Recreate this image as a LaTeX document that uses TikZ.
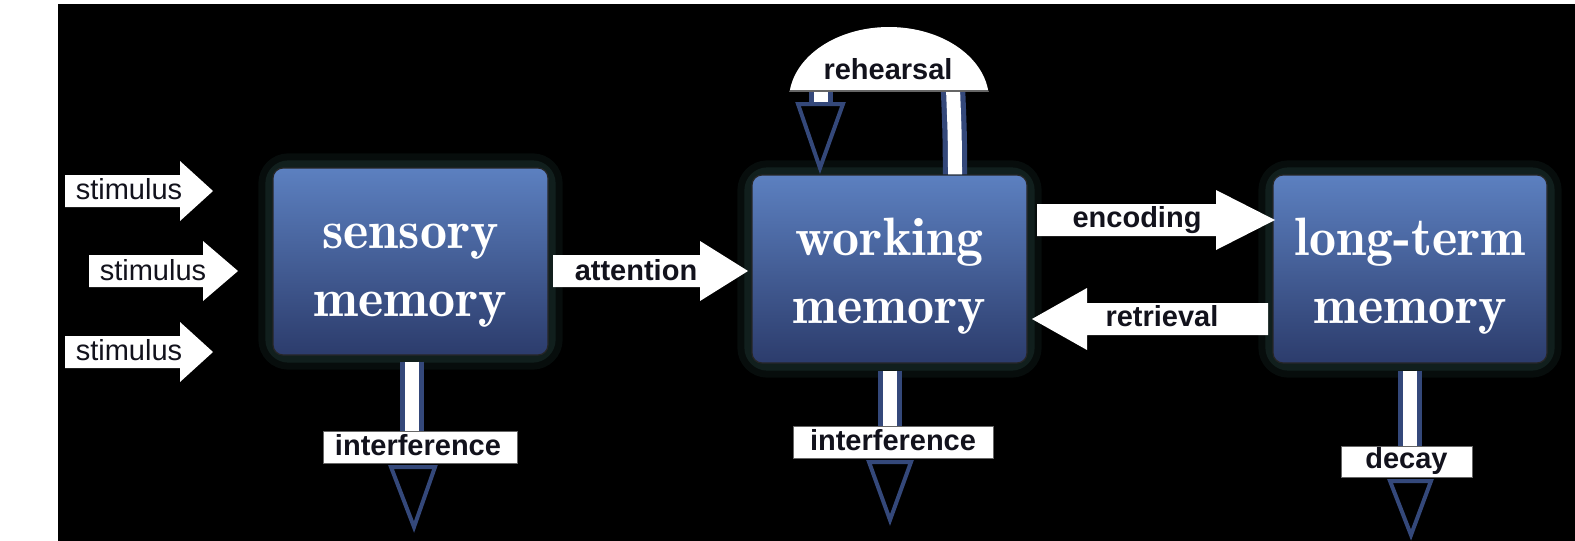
\documentclass[tikz,border=0pt]{standalone}
\usepackage{fontspec}
\newfontfamily\arial{Liberation Sans}
\usetikzlibrary{calc,backgrounds}
\definecolor{boxtop}{RGB}{92,128,192}
\definecolor{boxbot}{RGB}{44,60,108}
\definecolor{shaftblue}{RGB}{52,72,122}
\definecolor{glowc}{RGB}{32,60,56}
\definecolor{labtext}{RGB}{18,18,28}
\newcommand\rblock[4]{\fill[white] (#1,#4-16) -- (#2,#4-16) -- (#2,#4-30) -- (#3,#4) -- (#2,#4+30) -- (#2,#4+16) -- (#1,#4+16) -- cycle;}
\newcommand\lblock[4]{\fill[white] (#1,#4-16) -- (#2,#4-16) -- (#2,#4-31) -- (#3,#4) -- (#2,#4+31) -- (#2,#4+16) -- (#1,#4+16) -- cycle;}
\newcommand\boxlines[2]{\raisebox{-9.7pt}[0pt][0pt]{\begin{tabular}{@{}c@{}}#1\\#2\end{tabular}}}
\begin{document}
\begin{tikzpicture}[x=0.5pt,y=-0.5pt,
  membox/.style={rounded corners=5pt, top color=boxtop, bottom color=boxbot,
    draw=black!85, line width=0.6pt, text=white, inner sep=0pt,
    font=\fontseries{b}\fontsize{27}{34}\selectfont},
  arrtext/.style={anchor=base, text=labtext, inner sep=0pt, font=\arial\fontsize{14.5}{16}\selectfont},
  boldtext/.style={arrtext, font=\arial\bfseries\fontsize{14.5}{16}\selectfont},
  labbox/.style={fill=white, draw=black!60, line width=0.5pt, inner sep=0pt},
  shaft/.style={draw=shaftblue, line width=2.6pt, double=white, double distance=7pt},
  hollowhead/.style={draw=shaftblue, line width=2pt, fill=black, line join=miter},
  glow/.style={draw=glowc, rounded corners=8pt}
]
\useasboundingbox (0,0) rectangle (1575,541);

% memory boxes
\node[membox, minimum width=137.5pt, minimum height=93.5pt] (sm) at (410.5,261.5) {\boxlines{sensory}{memory}};
\node[membox, minimum width=137.5pt, minimum height=94pt] (wm) at (889.5,269) {\boxlines{working}{memory}};
\node[membox, minimum width=137pt, minimum height=94pt] (ltm) at (1410,269) {\boxlines{long-term}{memory}};

\begin{scope}[on background layer]
  \fill[white] (0,0) rectangle (1575,541);
  \fill[black] (58,4) rectangle (1575,541);
  \foreach \b in {sm,wm,ltm}{
    \draw[glow, line width=14pt, draw opacity=0.22] (\b.south west) rectangle (\b.north east);
    \draw[glow, line width=7pt, draw opacity=0.4] (\b.south west) rectangle (\b.north east);
  }
\end{scope}

% stimulus arrows
\rblock{65}{180}{213}{191}
\node[arrtext] (st1) at (129,199) {stimulus};
\rblock{89}{203}{238}{271}
\node[arrtext] (st2) at (153,280) {stimulus};
\rblock{65}{180}{213}{352}
\node[arrtext] (st3) at (129,360) {stimulus};

% attention
\rblock{553}{700}{748}{271}
\node[boldtext] (att) at (636,280) {attention};

% encoding / retrieval
\rblock{1037}{1216}{1275}{220}
\node[boldtext] (enc) at (1137,227) {encoding};
\lblock{1268}{1087}{1032}{319}
\node[boldtext] (ret) at (1162,326) {retrieval};

% interference 1
\draw[shaft] ($(sm.south)+(1.5,6)$) -- (412,431);
\node[labbox, minimum width=97pt, minimum height=16pt] (if1) at (420,447) {};
\node[boldtext] (if1t) at (418,455) {interference};
\draw[hollowhead] (391,467) -- (435,467) -- (414,527) -- cycle;

% interference 2
\draw[shaft] ($(wm.south)+(0.5,7)$) -- (890,426);
\node[labbox, minimum width=100pt, minimum height=16pt] (if2) at (893,442) {};
\node[boldtext] (if2t) at (893,450) {interference};
\draw[hollowhead] (869,462) -- (911,462) -- (890,520) -- cycle;

% decay
\draw[shaft] ($(ltm.south)+(0,7)$) -- (1410,446);
\node[labbox, minimum width=65.5pt, minimum height=15.5pt] (dec) at (1406.5,461.5) {};
\node[boldtext] (dect) at (1406.5,468) {decay};
\draw[hollowhead] (1390,481) -- (1431,481) -- (1411,535) -- cycle;

% rehearsal loop
\draw[shaft] ($(wm.north)+(65.5,0)$) .. controls +(0,-45) and +(1,30) .. (953,88);
\draw[shaft] (821,88) -- (821,104);
\draw[hollowhead] (798,104) -- (843,104) -- (820,168) -- cycle;
\begin{scope}
  \clip (770,0) rectangle (1010,91);
  \fill[white] (889,100) ellipse [x radius=50pt, y radius=36.5pt];
\end{scope}
\draw[black!60, line width=0.6pt] (790,91) -- (988,91);
\node[boldtext] (reh) at (888,79) {rehearsal};
\end{tikzpicture}
\end{document}
